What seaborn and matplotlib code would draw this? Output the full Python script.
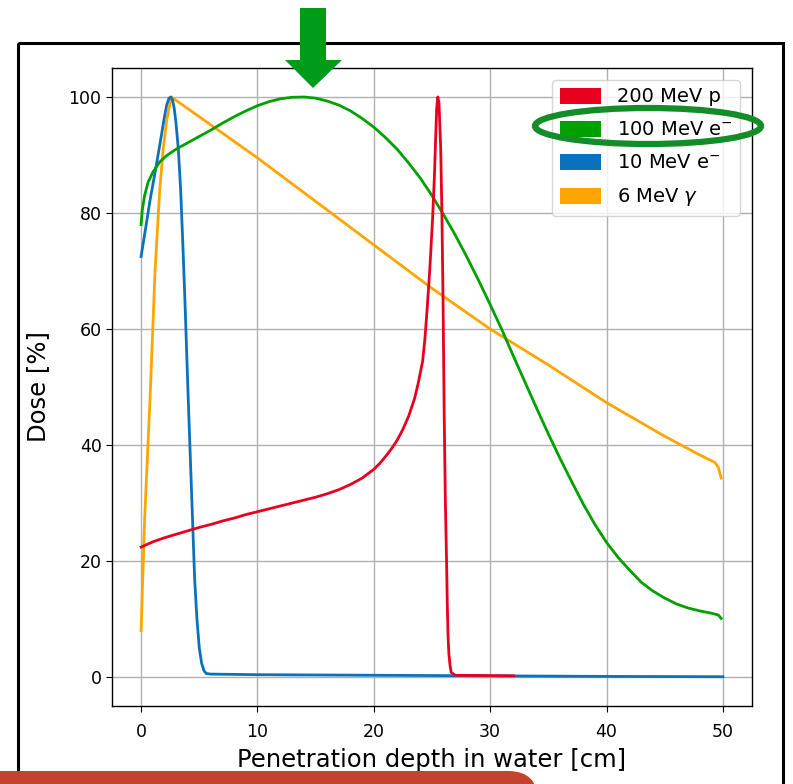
import matplotlib
matplotlib.use("Agg")
import matplotlib.pyplot as plt
from matplotlib.patches import Patch, Polygon, Ellipse, FancyBboxPatch, Rectangle
import seaborn as sns
import pandas as pd

# Depth-dose curves in water (depth in cm, dose in % of maximum)
proton_depth = [0, 1, 2, 3, 4, 5, 6, 7, 8, 9, 10, 11, 12, 13, 14, 15, 16, 17,
                18, 19, 20, 20.5, 21, 21.5, 22, 22.5, 23, 23.5, 23.8, 24.2,
                24.4, 24.6, 24.8, 24.9, 25.05, 25.2, 25.3, 25.4, 25.5, 25.6,
                25.75, 25.85, 25.95, 26.05, 26.15, 26.25, 26.32, 26.38, 26.45,
                26.55, 26.65, 27, 32]
proton_dose = [22.4, 23.3, 24.0, 24.6, 25.2, 25.8, 26.3, 26.9, 27.4, 28.0, 28.5,
               29.0, 29.5, 30.0, 30.5, 31.0, 31.6, 32.3, 33.2, 34.3, 35.8, 36.8,
               38.0, 39.3, 40.8, 42.7, 45.0, 48.0, 50.5, 54.5, 58.5, 64.0, 70.0,
               73.5, 79.0, 86.0, 92.0, 98.0, 100.0, 99.0, 91.0, 80.0, 65.0, 45.0,
               30.0, 20.0, 12.0, 7.0, 4.0, 2.0, 0.8, 0.3, 0.2]

e100_depth = [0, 0.1, 0.3, 0.6, 1.0, 1.6, 2.2, 3, 4, 5, 6, 7, 8, 9, 10, 11, 12,
              13, 14, 15, 16, 17, 18, 19, 20, 21, 22, 23, 24, 25, 26, 27, 28,
              29, 30, 31, 32, 33, 34, 35, 36, 37, 38, 39, 40, 41, 42, 43, 44,
              45, 46, 47, 48, 49, 49.6, 49.85]
e100_dose = [78.0, 80.5, 83.0, 85.3, 87.0, 88.8, 89.9, 91.0, 92.1, 93.2, 94.3,
             95.5, 96.6, 97.6, 98.5, 99.2, 99.7, 99.95, 100.0, 99.8, 99.3, 98.6,
             97.6, 96.3, 94.8, 93.0, 91.0, 88.6, 86.0, 83.0, 79.7, 76.2, 72.4,
             68.4, 64.2, 59.9, 55.3, 50.8, 46.3, 41.9, 37.7, 33.7, 29.8, 26.3,
             23.2, 20.6, 18.4, 16.3, 14.8, 13.6, 12.6, 11.9, 11.4, 11.0, 10.7,
             10.1]

e10_depth = [0, 0.2, 0.4, 0.77, 1.2, 1.63, 2.0, 2.2, 2.4, 2.55, 2.7, 2.85, 3.0,
             3.2, 3.4, 3.6, 3.8, 4.05, 4.3, 4.6, 4.8, 5.0, 5.2, 5.4, 5.6, 6, 10,
             20, 30, 40, 50]
e10_dose = [72.5, 75.0, 77.5, 82.2, 87.0, 92.0, 96.5, 98.6, 99.8, 100.0, 99.5,
            98.0, 95.5, 91.0, 84.0, 74.0, 63.0, 48.0, 34.0, 17.0, 10.0, 5.0,
            2.4, 1.1, 0.6, 0.5, 0.4, 0.3, 0.2, 0.1, 0.05]

gamma_depth = [0, 0.3, 0.77, 1.2, 1.6, 1.9, 2.2, 2.6, 5, 10, 15, 20, 25, 30, 35,
               40, 45, 48, 49.3, 49.6, 49.85]
gamma_dose = [8.0, 27.0, 48.0, 70.0, 84.0, 91.0, 96.0, 100.0, 96.6, 89.5, 82.0,
              74.5, 67.0, 60.0, 53.8, 47.3, 41.5, 38.3, 37.0, 36.2, 34.3]

beam_labels = ["200 MeV p", "100 MeV e$^{-}$", "10 MeV e$^{-}$", "6 MeV $\\gamma$"]
beam_colors = ["#e8001f", "#00a000", "#0a72ba", "#ffa500"]

series = [(proton_depth, proton_dose), (e100_depth, e100_dose),
          (e10_depth, e10_dose), (gamma_depth, gamma_dose)]
frames = []
for label, (d, v) in zip(beam_labels, series):
    frames.append(pd.DataFrame({"depth": d, "dose": v, "beam": label}))
df = pd.concat(frames, ignore_index=True)

W, H = 793, 784
fig = plt.figure(figsize=(W / 100, H / 100), dpi=100)
fig.patch.set_facecolor("white")

ax = fig.add_axes([112 / W, 1 - 706 / H, 640 / W, 638 / H])
palette = dict(zip(beam_labels, beam_colors))
# draw photons first so that the charged-particle curves sit on top
for label in reversed(beam_labels):
    sns.lineplot(data=df[df["beam"] == label], x="depth", y="dose",
                 color=palette[label], lw=2.0, sort=False, estimator=None,
                 ax=ax, legend=False)

ax.set_xlim(-2.5, 52.5)
ax.set_ylim(-5, 105)
ax.set_xticks([0, 10, 20, 30, 40, 50])
ax.set_yticks([0, 20, 40, 60, 80, 100])
ax.grid(True, color="#b0b0b0", lw=1.0)
ax.tick_params(labelsize=12.5, length=4)
ax.tick_params(axis="x", pad=8)
ax.set_xlabel("Penetration depth in water [cm]", fontsize=17.5, labelpad=5)
ax.set_ylabel("Dose [%]", fontsize=17.5, labelpad=13)
for s in ax.spines.values():
    s.set_linewidth(1.0)

handles = [Patch(facecolor=c, label=l) for l, c in zip(beam_labels, beam_colors)]
ax.legend(handles=handles, loc="upper right", fontsize=14, handlelength=2.1,
          handleheight=0.9, labelspacing=0.72, borderaxespad=0.6)

# Overlay in pixel coordinates for the slide decorations
ov = fig.add_axes([0, 0, 1, 1], zorder=10)
ov.set_xlim(0, W)
ov.set_ylim(H, 0)
ov.axis("off")
ov.patch.set_visible(False)

ov.add_patch(Rectangle((18, 43), 765, 800, fill=False, ec="black", lw=2.2))
ov.add_patch(Polygon([(300, 8), (326, 8), (326, 60), (342, 60), (313, 88),
                      (285, 60), (300, 60)], closed=True, fc="#009b18", ec="none"))
ov.add_patch(Ellipse((648, 126), 226, 36, fill=False, ec="#148c28", lw=4.5))
ov.add_patch(FancyBboxPatch((-40, 771), 578, 60,
                            boxstyle="round,pad=0,rounding_size=30",
                            fc="#c3432f", ec="none"))

fig.savefig("out.png", dpi=100)
